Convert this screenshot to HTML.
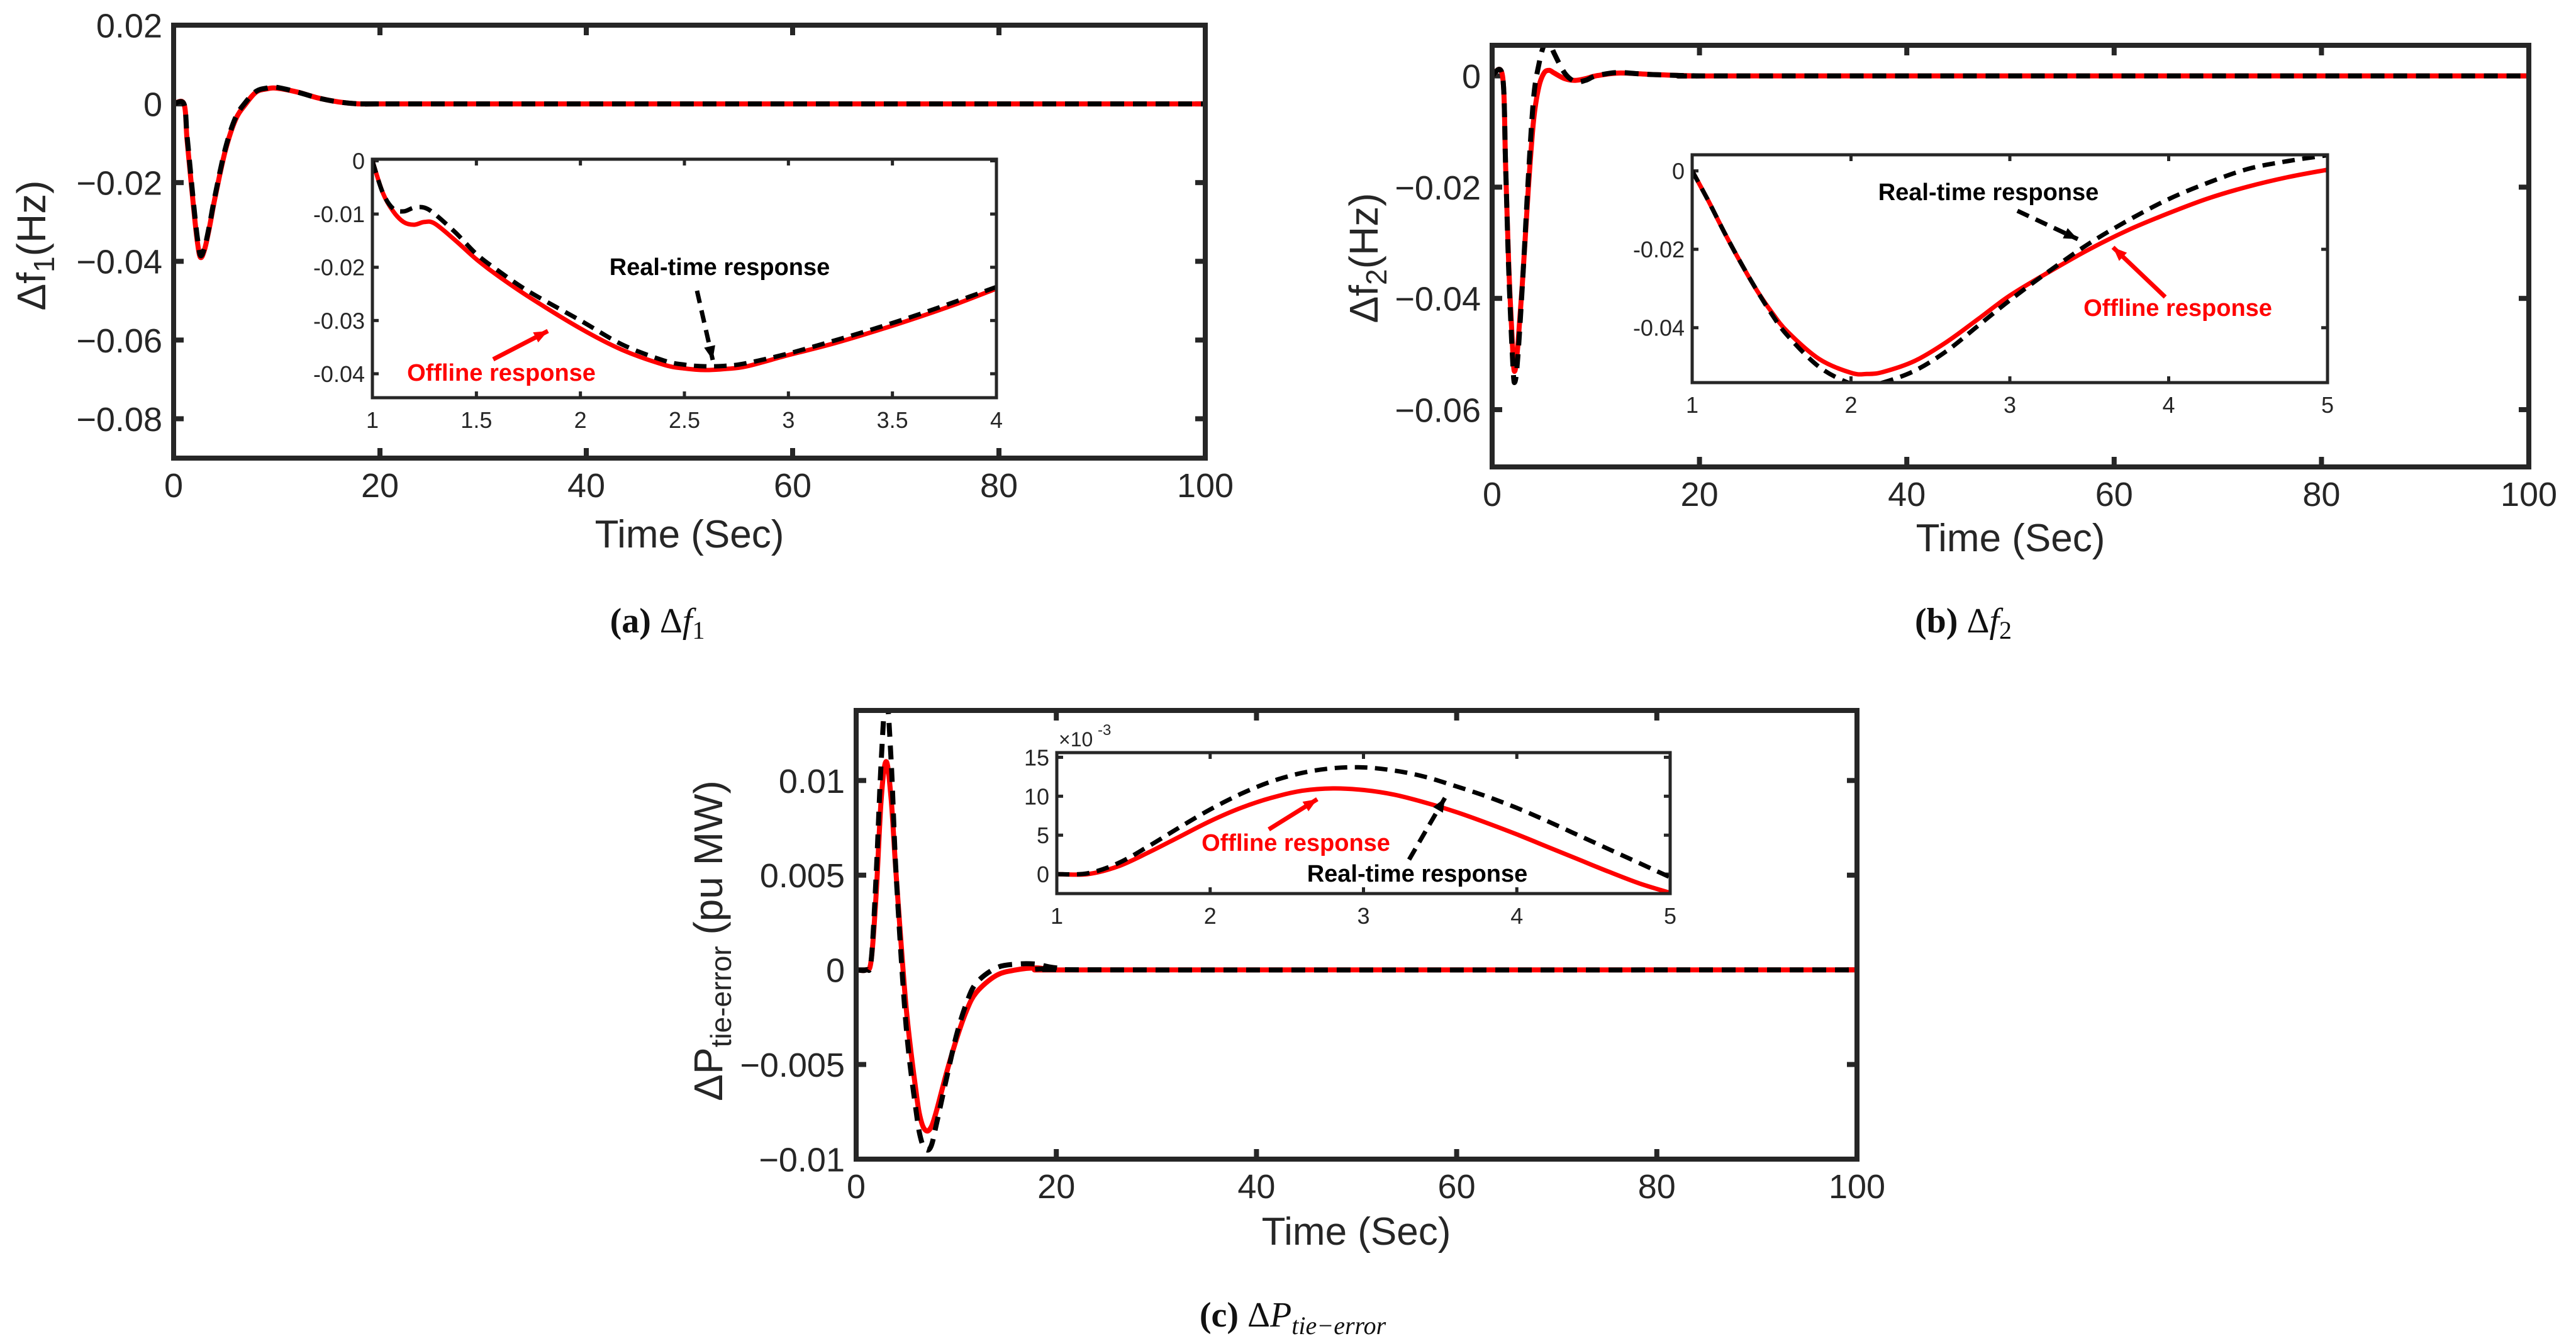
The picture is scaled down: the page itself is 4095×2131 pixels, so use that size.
<!DOCTYPE html>
<html><head><meta charset="utf-8"><style>
html,body{margin:0;padding:0;background:#fff}
svg{display:block}
text{font-family:"Liberation Sans",sans-serif;fill:#262626}
.cap{font-family:"Liberation Serif",serif;fill:#111}
</style></head><body>
<svg id="fig" width="4095" height="2131" viewBox="0 0 4095 2131" xmlns="http://www.w3.org/2000/svg">
<text class="cap" x="1045" y="1005" font-size="56" text-anchor="middle"><tspan font-weight="bold">(a)</tspan>  Δ<tspan font-style="italic">f</tspan><tspan font-size="40" dy="10">1</tspan></text>
<text class="cap" x="3121" y="1005" font-size="56" text-anchor="middle"><tspan font-weight="bold">(b)</tspan>  Δ<tspan font-style="italic">f</tspan><tspan font-size="40" dy="10">2</tspan></text>
<text class="cap" x="2055" y="2108" font-size="56" text-anchor="middle"><tspan font-weight="bold">(c)</tspan>  Δ<tspan font-style="italic">P</tspan><tspan font-size="40" dy="12" font-style="italic">tie−error</tspan></text>
</svg>
<script>
// ---- Panel (a) main ----
const aT=[0,1,1.3,1.7,2,2.3,2.6,3,3.5,4,5,6,7,8,9,10,12,14,16,18,20,25,100];
const aOff=[0,0,-0.009,-0.02,-0.028,-0.035,-0.039,-0.037,-0.031,-0.024,-0.012,-0.004,0.0,0.003,0.0038,0.004,0.003,0.0015,0.0005,0,0,0,0];
const aReal=[0,0,-0.008,-0.019,-0.027,-0.034,-0.0385,-0.0365,-0.0305,-0.0235,-0.0115,-0.0035,0.0005,0.0032,0.004,0.0042,0.003,0.0015,0.0005,0,0,0,0];
// ---- Panel (a) inset ----
const aiT=[1,1.05,1.1,1.15,1.2,1.25,1.3,1.4,1.5,1.6,1.75,2,2.2,2.4,2.5,2.6,2.7,2.8,3,3.2,3.4,3.6,3.8,4];
const aiOff=[0,-0.006,-0.0095,-0.0115,-0.012,-0.0115,-0.0118,-0.015,-0.0185,-0.0215,-0.0255,-0.0315,-0.0355,-0.0383,-0.039,-0.0393,-0.0391,-0.0386,-0.0365,-0.0345,-0.0322,-0.0297,-0.027,-0.024];
const aiReal=[0,-0.006,-0.009,-0.0095,-0.0088,-0.0088,-0.010,-0.0135,-0.0175,-0.0205,-0.0245,-0.030,-0.0345,-0.0375,-0.0383,-0.0386,-0.0385,-0.038,-0.0362,-0.034,-0.0317,-0.0292,-0.0265,-0.0237];
// ---- Panel (b) main ----
const bT=[0,1,1.3,1.6,2,2.2,2.5,3,3.5,4,4.5,5,5.5,6,7,8,9,10,12,14,16,20,25,100];
const bOff=[0,0,-0.016,-0.034,-0.05,-0.053,-0.048,-0.035,-0.02,-0.008,-0.002,0.0005,0.001,0.0005,-0.0005,-0.0008,-0.0005,0,0.0005,0.0004,0.0002,0,0,0];
const bReal=[0,0,-0.016,-0.035,-0.052,-0.055,-0.05,-0.035,-0.018,-0.004,0.002,0.0055,0.006,0.004,0.0005,-0.001,-0.0008,0,0.0006,0.0004,0.0002,0,0,0];
// ---- Panel (b) inset ----
const biT=[1,1.1,1.2,1.3,1.4,1.5,1.6,1.8,2,2.1,2.2,2.4,2.6,2.8,3,3.25,3.5,3.75,4,4.25,4.5,4.75,5];
const biOff=[0,-0.0075,-0.0155,-0.023,-0.03,-0.036,-0.041,-0.048,-0.0515,-0.0518,-0.0513,-0.0485,-0.0437,-0.0378,-0.0318,-0.0257,-0.020,-0.015,-0.0108,-0.007,-0.004,-0.0016,0.0003];
const biReal=[0,-0.0075,-0.0155,-0.023,-0.030,-0.0365,-0.042,-0.050,-0.0543,-0.0546,-0.054,-0.051,-0.046,-0.0395,-0.033,-0.0255,-0.0185,-0.0125,-0.0072,-0.003,0.0005,0.0025,0.004];
// ---- Panel (c) main ----
const cT=[0,1,1.5,2,2.5,3,3.5,4,5,6,6.5,7,7.5,8,9,10,11,12,14,16,18,20,25,100];
const cOff=[0,0,0.0005,0.004,0.009,0.011,0.009,0.005,-0.002,-0.0065,-0.008,-0.0085,-0.0083,-0.0075,-0.0055,-0.0037,-0.0022,-0.0012,-0.0003,0,0.0001,0,0,0];
const cReal=[0,0,0.0005,0.005,0.011,0.0145,0.011,0.005,-0.003,-0.0075,-0.009,-0.0095,-0.0093,-0.0082,-0.0058,-0.0035,-0.0018,-0.0007,0.0001,0.0003,0.0003,0.0001,0,0];
// ---- Panel (c) inset (x10^-3) ----
const ciT=[1,1.2,1.4,1.6,1.8,2,2.2,2.4,2.6,2.8,3,3.2,3.4,3.6,3.8,4,4.2,4.4,4.6,4.8,5];
const ciOff=[0,0,1,2.8,4.8,6.8,8.5,9.8,10.7,11,10.8,10.2,9.2,8,6.6,5.1,3.5,1.9,0.3,-1.2,-2.4];
const ciReal=[0,0.1,1.4,3.6,6,8.3,10.3,11.9,13,13.6,13.7,13.3,12.5,11.3,10,8.5,6.8,5,3.2,1.4,-0.4];
// tick arrays
const mainXTicks=[0,20,40,60,80,100];
const aYTicks=[0.02,0,-0.02,-0.04,-0.06,-0.08];
const aYLabels=["0.02","0","−0.02","−0.04","−0.06","−0.08"];
const aiXTicks=[1,1.5,2,2.5,3,3.5,4];
const aiYTicks=[0,-0.01,-0.02,-0.03,-0.04];
const aiYLabels=["0","-0.01","-0.02","-0.03","-0.04"];
const bYTicks=[0,-0.02,-0.04,-0.06];
const bYLabels=["0","−0.02","−0.04","−0.06"];
const biXTicks=[1,2,3,4,5];
const biYTicks=[0,-0.02,-0.04];
const biYLabels=["0","-0.02","-0.04"];
const cYTicks=[0.01,0.005,0,-0.005,-0.01];
const cYLabels=["0.01","0.005","0","−0.005","−0.01"];
const ciXTicks=[1,2,3,4,5];
const ciYTicks=[15,10,5,0];
const ciYLabels=["15","10","5","0"];

const NS="http://www.w3.org/2000/svg";
const svg=document.getElementById('fig');
let clipId=0;
function mk(tag,attrs,parent){const e=document.createElementNS(NS,tag);for(const k in attrs)e.setAttribute(k,attrs[k]);(parent||svg).appendChild(e);return e;}
function pathD(xs,ys,sx,sy){
  const p=xs.map((x,i)=>[sx(x),sy(ys[i])]);
  let d="M"+p[0][0].toFixed(1)+","+p[0][1].toFixed(1);
  for(let i=0;i<p.length-1;i++){
    const p0=p[Math.max(0,i-1)],p1=p[i],p2=p[i+1],p3=p[Math.min(p.length-1,i+2)];
    const c1=[p1[0]+(p2[0]-p0[0])/6,p1[1]+(p2[1]-p0[1])/6];
    const c2=[p2[0]-(p3[0]-p1[0])/6,p2[1]-(p3[1]-p1[1])/6];
    d+="C"+c1[0].toFixed(1)+","+c1[1].toFixed(1)+" "+c2[0].toFixed(1)+","+c2[1].toFixed(1)+" "+p2[0].toFixed(1)+","+p2[1].toFixed(1);
  }
  return d;
}
function panel(o){
  const g=mk('g',{});
  
  
  const sx=v=>o.x0+(v-o.xmin)/(o.xmax-o.xmin)*(o.x1-o.x0);
  const sy=v=>o.y1-(v-o.ymin)/(o.ymax-o.ymin)*(o.y1-o.y0);
  mk('rect',{x:o.x0,y:o.y0,width:o.x1-o.x0,height:o.y1-o.y0,fill:'#fff'},g);
  const id='clip'+(clipId++);
  const cp=mk('clipPath',{id:id},g);
  mk('rect',{x:o.x0,y:o.y0,width:o.x1-o.x0,height:o.y1-o.y0},cp);
  const tl=o.tickLen;
  o.xt.forEach(v=>{const x=sx(v);
    mk('line',{x1:x,y1:o.y1,x2:x,y2:o.y1-tl,stroke:'#262626','stroke-width':o.bw},g);
    mk('line',{x1:x,y1:o.y0,x2:x,y2:o.y0+tl,stroke:'#262626','stroke-width':o.bw},g);
    const t=mk('text',{x:x,y:o.y1+o.xlabOff,'font-size':o.fs,'text-anchor':'middle'},g);
    
    
    t.textContent=String(v);});
  o.yt.forEach((v,i)=>{const y=sy(v);
    mk('line',{x1:o.x0,y1:y,x2:o.x0+tl,y2:y,stroke:'#262626','stroke-width':o.bw},g);
    mk('line',{x1:o.x1,y1:y,x2:o.x1-tl,y2:y,stroke:'#262626','stroke-width':o.bw},g);
    const t=mk('text',{x:o.x0-o.ylabOff,y:y+o.fs*0.36,'font-size':o.fs,'text-anchor':'end'},g);
    
    
    t.textContent=o.yl[i];});
  const lg=mk('g',{'clip-path':'url(#'+id+')'},g);
  const r=mk('path',{d:pathD(o.t,o.off,sx,sy),fill:'none',stroke:'#ff0000','stroke-width':o.lw,'stroke-linejoin':'round'},lg);
  
  
  const b=mk('path',{d:pathD(o.t,o.real,sx,sy),fill:'none',stroke:'#000','stroke-width':o.lw,'stroke-dasharray':o.dash},lg);
  
  
  mk('rect',{x:o.x0,y:o.y0,width:o.x1-o.x0,height:o.y1-o.y0,fill:'none',stroke:'#262626','stroke-width':o.bw},g);
  return g;
}
function txt(x,y,s,fs,attrs,name){const t=mk('text',Object.assign({x:x,y:y,'font-size':fs},attrs||{}));t.textContent=s;return t;}
function arrow(x1,y1,x2,y2,col,dash,name){
  const l=mk('line',{x1:x1,y1:y1,x2:x2,y2:y2,stroke:col,'stroke-width':7});
  if(dash)l.setAttribute('stroke-dasharray','20 12');
  
  
  const a=Math.atan2(y2-y1,x2-x1),L=22,W=9;
  const bx=x2-L*Math.cos(a),by=y2-L*Math.sin(a);
  mk('polygon',{points:`${x2},${y2} ${bx-W*Math.sin(a)},${by+W*Math.cos(a)} ${bx+W*Math.sin(a)},${by-W*Math.cos(a)}`,fill:col});
}
function ylabel(x,y,content,name){const t=mk('text',{x:0,y:0,'font-size':64,'text-anchor':'middle',transform:`translate(${x},${y}) rotate(-90)`});t.innerHTML=content;}

const mainCfg={xmin:0,xmax:100,xt:mainXTicks,fs:54,xlabOff:62,ylabOff:18,tickLen:16,bw:8,lw:8,dash:'22 14'};
const insCfg={fs:36,xlabOff:48,ylabOff:12,tickLen:10,bw:5,lw:7,dash:'20 12'};

// Panel a
panel(Object.assign({},mainCfg,{name:'panel-a-main',x0:276,x1:1916,y0:40,y1:728,ymin:-0.09,ymax:0.02,yt:aYTicks,yl:aYLabels,t:aT,off:aOff,real:aReal}));
panel(Object.assign({},insCfg,{name:'panel-a-inset',x0:592,x1:1584,y0:253,y1:632,xmin:1,xmax:4,ymin:-0.0445,ymax:0.0003,xt:aiXTicks,yt:aiYTicks,yl:aiYLabels,t:aiT,off:aiOff,real:aiReal}));
txt(1096,870,'Time (Sec)',62,{'text-anchor':'middle'},'x-axis-title-a');
ylabel(72,390,'Δf<tspan font-size="46" dy="14">1</tspan><tspan dy="-14">(Hz)</tspan>','y-axis-title-a');
txt(1144,437,'Real-time response',38,{'text-anchor':'middle','font-weight':'bold',style:'fill:#000'},'real-time-annotation-a');
txt(797,605,'Offline response',38,{'text-anchor':'middle','font-weight':'bold',style:'fill:#f00'},'offline-annotation-a');
arrow(1108,462,1133,572,'#000',true,'real-time-arrow-a');
arrow(784,571,871,526,'#f00',false,'offline-arrow-a');

// Panel b
panel(Object.assign({},mainCfg,{name:'panel-b-main',x0:2372,x1:4020,y0:72,y1:742,ymin:-0.0703,ymax:0.0055,yt:bYTicks,yl:bYLabels,t:bT,off:bOff,real:bReal}));
panel(Object.assign({},insCfg,{name:'panel-b-inset',x0:2690,x1:3700,y0:246,y1:608,xmin:1,xmax:5,ymin:-0.054,ymax:0.0041,xt:biXTicks,yt:biYTicks,yl:biYLabels,t:biT,off:biOff,real:biReal}));
txt(3196,876,'Time (Sec)',62,{'text-anchor':'middle'},'x-axis-title-b');
ylabel(2190,410,'Δf<tspan font-size="46" dy="14">2</tspan><tspan dy="-14">(Hz)</tspan>','y-axis-title-b');
txt(3161,318,'Real-time response',38,{'text-anchor':'middle','font-weight':'bold',style:'fill:#000'},'real-time-annotation-b');
txt(3462,502,'Offline response',38,{'text-anchor':'middle','font-weight':'bold',style:'fill:#f00'},'offline-annotation-b');
arrow(3207,335,3303,380,'#000',true,'real-time-arrow-b');
arrow(3442,472,3359,393,'#f00',false,'offline-arrow-b');

// Panel c
panel(Object.assign({},mainCfg,{name:'panel-c-main',x0:1361,x1:2952,y0:1129,y1:1842,ymin:-0.01,ymax:0.0137,yt:cYTicks,yl:cYLabels,t:cT,off:cOff,real:cReal}));
panel(Object.assign({},insCfg,{name:'panel-c-inset',x0:1680,x1:2655,y0:1196,y1:1420,xmin:1,xmax:5,ymin:-2.5,ymax:15.6,xt:ciXTicks,yt:ciYTicks,yl:ciYLabels,t:ciT,off:ciOff,real:ciReal}));
txt(2156,1978,'Time (Sec)',62,{'text-anchor':'middle'},'x-axis-title-c');
ylabel(1148,1495,'ΔP<tspan font-size="46" dy="14">tie-error</tspan><tspan dy="-14"> (pu MW)</tspan>','y-axis-title-c');
txt(1683,1186,'×10',32,{},'inset-exponent-c');
txt(1745,1168,'-3',24,{},'inset-exponent-power-c');
txt(2060,1352,'Offline response',38,{'text-anchor':'middle','font-weight':'bold',style:'fill:#f00'},'offline-annotation-c');
txt(2253,1401,'Real-time response',38,{'text-anchor':'middle','font-weight':'bold',style:'fill:#000'},'real-time-annotation-c');
arrow(2017,1318,2094,1270,'#f00',false,'offline-arrow-c');
arrow(2240,1366,2297,1268,'#000',true,'real-time-arrow-c');
</script>
</body></html>
